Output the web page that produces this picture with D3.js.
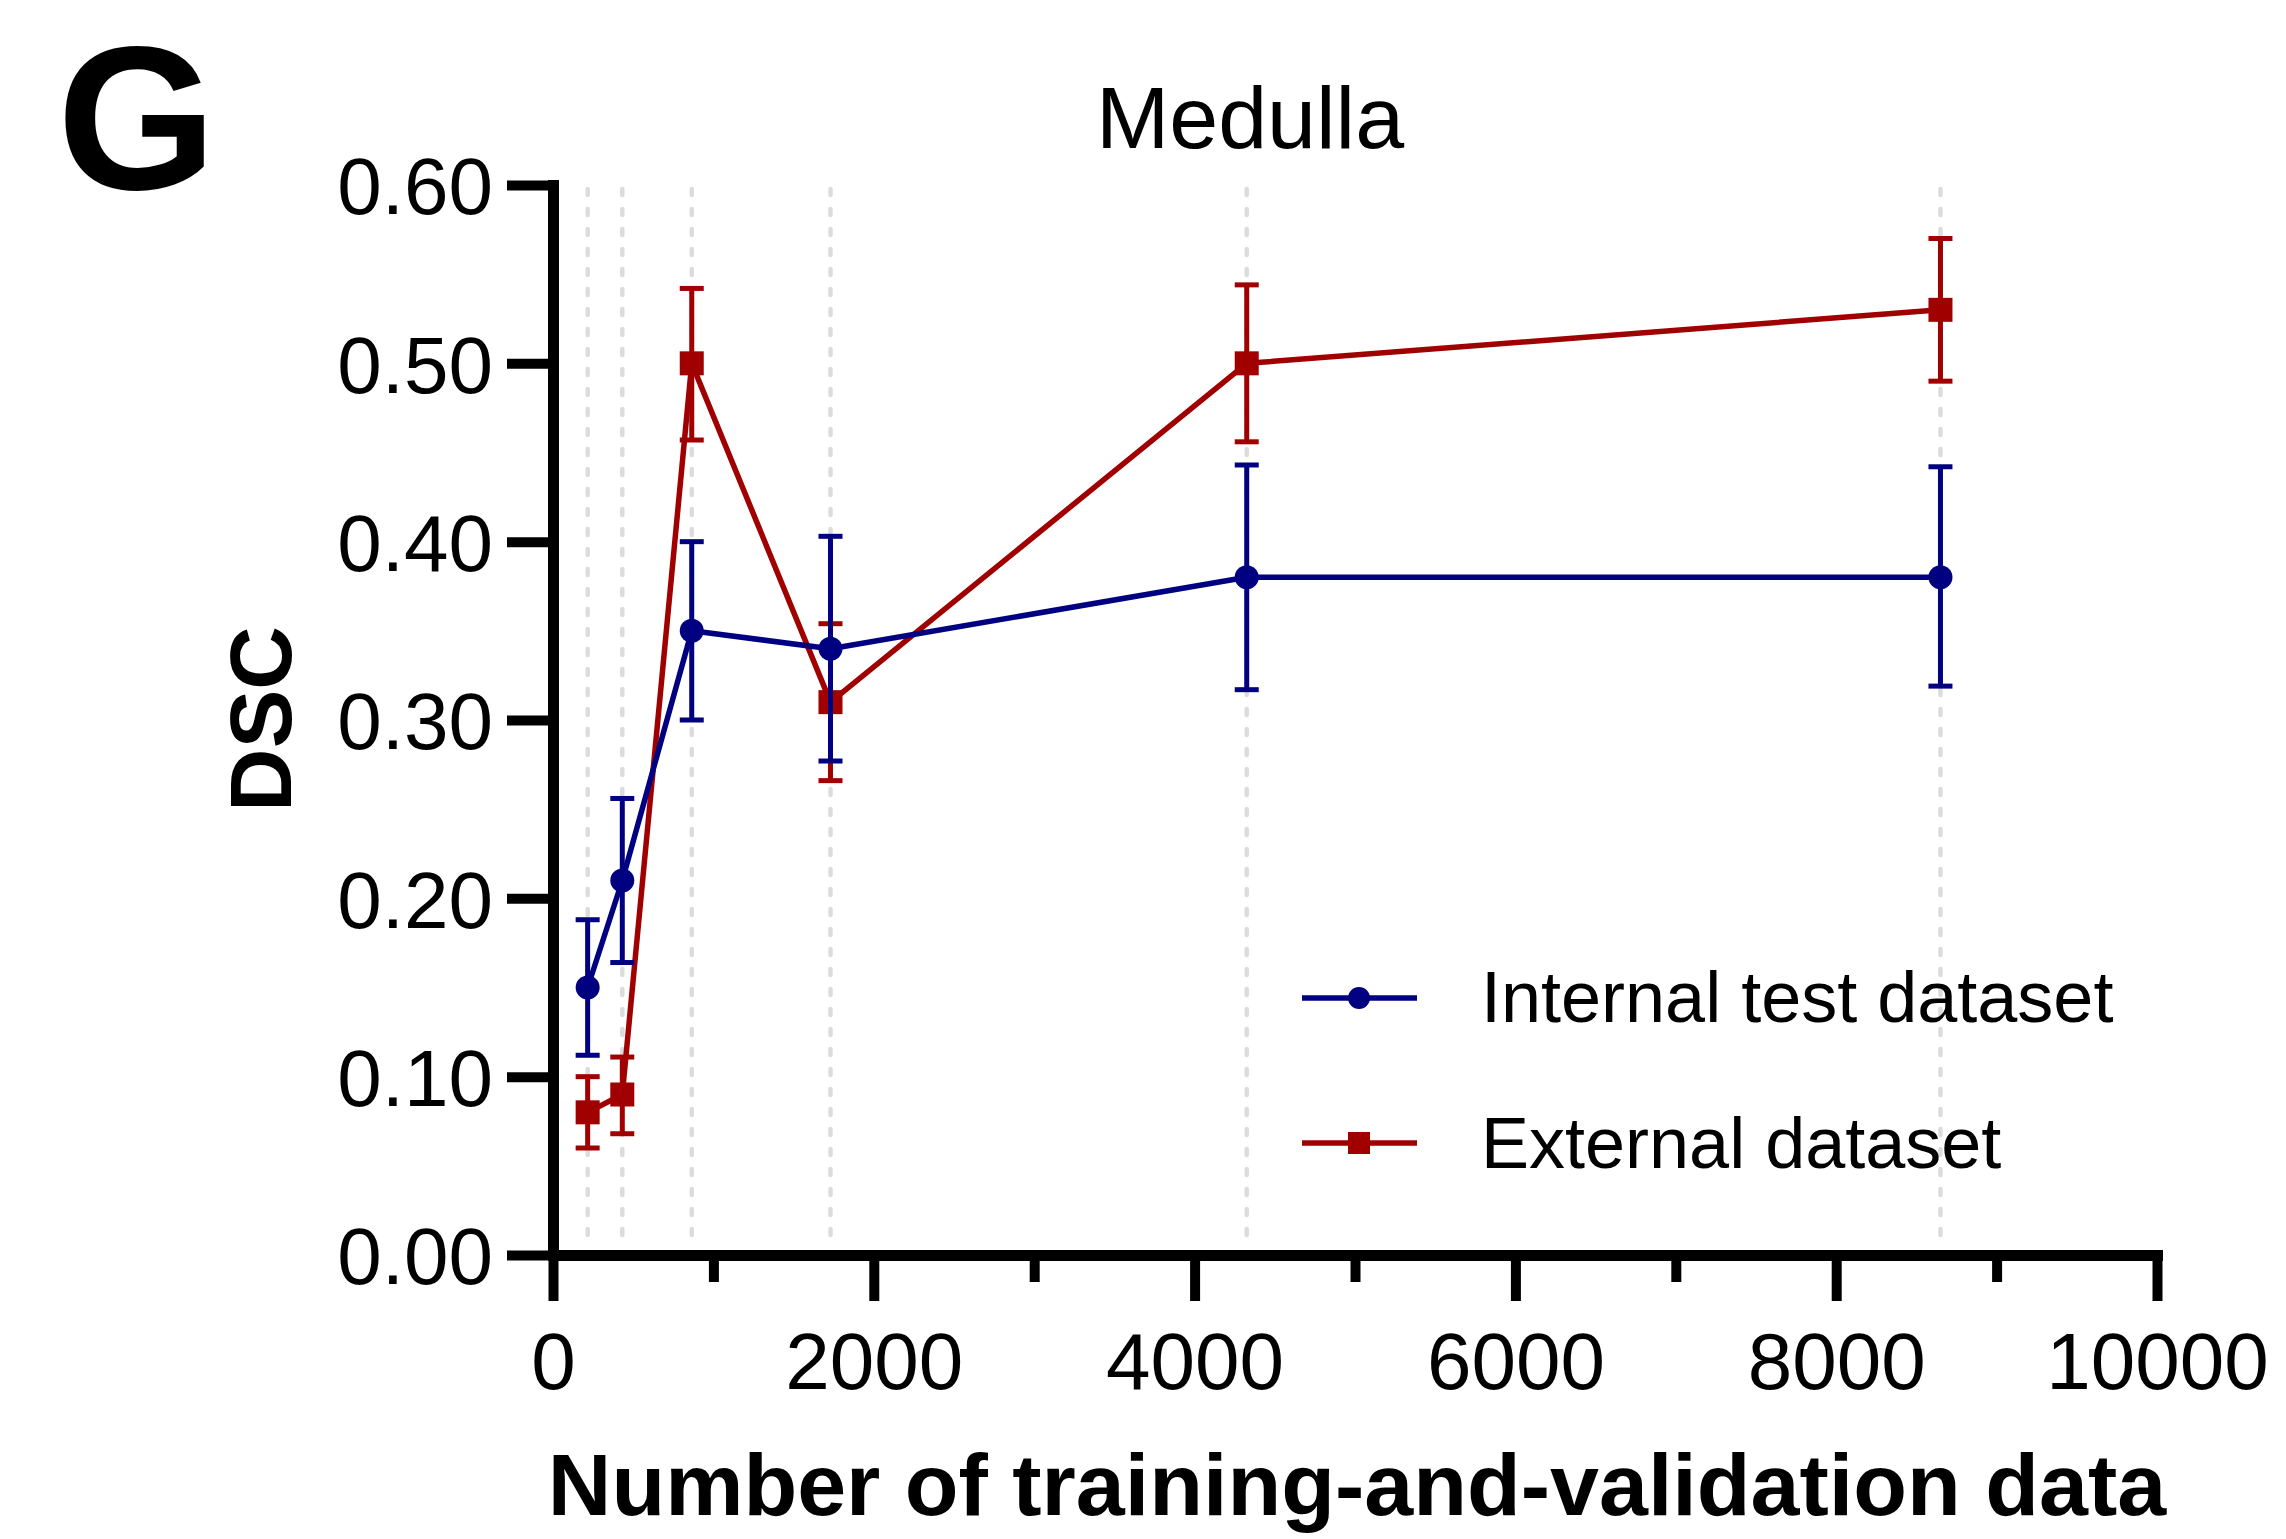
<!DOCTYPE html>
<html>
<head>
<meta charset="utf-8">
<script src="https://cdn.jsdelivr.net/npm/d3@7"></script>
<style>
  body { margin: 0; background: #fff; }
  svg { display: block; font-family: "Liberation Sans", Arial, sans-serif; }
</style>
</head>
<body>
<svg id="chart" width="2286" height="1539"></svg>
<script>
'use strict';

// training-and-validation set sizes (x)
const nTrain = [216, 432, 865, 1730, 4325, 8650];

// internal test dataset: mean DSC and error bar ends
const internalMean = [0.15, 0.21, 0.35, 0.34, 0.38, 0.38];
const internalLow  = [0.112, 0.164, 0.300, 0.277, 0.317, 0.319];
const internalHigh = [0.188, 0.256, 0.400, 0.403, 0.443, 0.442];

// external dataset
const externalMean = [0.08, 0.09, 0.50, 0.31, 0.50, 0.53];
const externalLow  = [0.060, 0.068, 0.457, 0.266, 0.456, 0.490];
const externalHigh = [0.100, 0.111, 0.542, 0.354, 0.544, 0.570];

const yTicks = [0, 0.1, 0.2, 0.3, 0.4, 0.5, 0.6];
const xTicks = [0, 2000, 4000, 6000, 8000, 10000];
const xMinorTicks = [1000, 3000, 5000, 7000, 9000];

const seriesNames = ['Internal test dataset', 'External dataset'];
const BLUE = '#000080';
const RED = '#a00000';

const svg = d3.select('#chart');

const x = d3.scaleLinear().domain([0, 10000]).range([553, 2157]);
const y = d3.scaleLinear().domain([0, 0.6]).range([1255, 185]);

// dashed vertical guides at each sample size
svg.append('g')
    .selectAll('line')
    .data(nTrain)
    .enter()
    .append('line')
    .attr('x1', d => x(d)).attr('x2', d => x(d))
    .attr('y1', y(0.6) + 4).attr('y2', y(0) - 10)
    .attr('stroke', '#dcdcdc')
    .attr('stroke-width', 4.5)
    .attr('stroke-linecap', 'round')
    .attr('stroke-dasharray', '6,14');

function drawSeries(mean, low, high, color, marker) {
    const pts = nTrain.map((n, i) => ({n: n, m: mean[i], lo: low[i], hi: high[i]}));
    const g = svg.append('g');

    g.append('path')
        .datum(pts)
        .attr('fill', 'none')
        .attr('stroke', color)
        .attr('stroke-width', 5.5)
        .attr('stroke-linejoin', 'round')
        .attr('d', d3.line().x(d => x(d.n)).y(d => y(d.m)));

    // error bars
    g.selectAll('.ebar')
        .data(pts)
        .enter()
        .append('line')
        .attr('class', 'ebar')
        .attr('x1', d => x(d.n)).attr('x2', d => x(d.n))
        .attr('y1', d => y(d.lo)).attr('y2', d => y(d.hi))
        .attr('stroke', color).attr('stroke-width', 5);

    ['lo', 'hi'].forEach((k) => {
        g.selectAll('.cap-' + k)
            .data(pts)
            .enter()
            .append('line')
            .attr('x1', d => x(d.n) - 12).attr('x2', d => x(d.n) + 12)
            .attr('y1', d => y(d[k])).attr('y2', d => y(d[k]))
            .attr('stroke', color).attr('stroke-width', 5);
    });

    if (marker === 'circle') {
        g.selectAll('circle')
            .data(pts)
            .enter()
            .append('circle')
            .attr('cx', d => x(d.n)).attr('cy', d => y(d.m))
            .attr('r', 12)
            .attr('fill', color);
    } else {
        g.selectAll('rect')
            .data(pts)
            .enter()
            .append('rect')
            .attr('x', d => x(d.n) - 12).attr('y', d => y(d.m) - 12)
            .attr('width', 24).attr('height', 24)
            .attr('fill', color);
    }
}

drawSeries(externalMean, externalLow, externalHigh, RED, 'square');
drawSeries(internalMean, internalLow, internalHigh, BLUE, 'circle');

// axes
const yAxis = svg.append('g')
    .attr('transform', 'translate(' + x(0) + ',0)')
    .call(d3.axisLeft(y).tickValues(yTicks).tickFormat(d3.format('.2f'))
        .tickSize(46).tickSizeOuter(0).tickPadding(14));

const xAxis = svg.append('g')
    .attr('transform', 'translate(0,' + y(0) + ')')
    .call(d3.axisBottom(x).tickValues(xTicks).tickFormat(d3.format('d'))
        .tickSize(46).tickSizeOuter(0).tickPadding(31));

svg.append('g')
    .attr('transform', 'translate(0,' + y(0) + ')')
    .call(d3.axisBottom(x).tickValues(xMinorTicks).tickFormat('')
        .tickSize(27).tickSizeOuter(0))
    .select('.domain').remove();

svg.selectAll('.domain')
    .attr('stroke', '#000')
    .attr('stroke-width', 11)
    .attr('stroke-linecap', 'square');
svg.selectAll('.tick line')
    .attr('stroke', '#000')
    .attr('stroke-width', 10);
svg.selectAll('.tick text')
    .attr('fill', '#000')
    .style('font-family', '"Liberation Sans", Arial, sans-serif')
    .style('font-size', '80px');
yAxis.selectAll('.tick text').attr('dy', '0.36em');

// titles
svg.append('text')
    .attr('x', 57).attr('y', 189)
    .style('font-size', '205px').style('font-weight', 'bold')
    .text('G');

svg.append('text')
    .attr('x', 1250).attr('y', 148)
    .attr('text-anchor', 'middle')
    .style('font-size', '88px')
    .text('Medulla');

svg.append('text')
    .attr('transform', 'translate(291,719) rotate(-90)')
    .attr('text-anchor', 'middle')
    .style('font-size', '88px').style('font-weight', 'bold')
    .text('DSC');

svg.append('text')
    .attr('x', 1357).attr('y', 1515)
    .attr('text-anchor', 'middle')
    .style('font-size', '88px').style('font-weight', 'bold')
    .text('Number of training-and-validation data');

// legend
const legendRows = [
    {name: seriesNames[0], color: BLUE, marker: 'circle', ly: 998, ty: 1022},
    {name: seriesNames[1], color: RED, marker: 'square', ly: 1143, ty: 1168}
];
const legend = svg.append('g');
legendRows.forEach((r) => {
    legend.append('line')
        .attr('x1', 1302).attr('x2', 1417)
        .attr('y1', r.ly).attr('y2', r.ly)
        .attr('stroke', r.color).attr('stroke-width', 5.5);
    if (r.marker === 'circle') {
        legend.append('circle')
            .attr('cx', 1359).attr('cy', r.ly).attr('r', 11)
            .attr('fill', r.color);
    } else {
        legend.append('rect')
            .attr('x', 1348).attr('y', r.ly - 11)
            .attr('width', 22).attr('height', 22)
            .attr('fill', r.color);
    }
    legend.append('text')
        .attr('x', 1481).attr('y', r.ty)
        .style('font-size', '72px')
        .text(r.name);
});
</script>
</body>
</html>
